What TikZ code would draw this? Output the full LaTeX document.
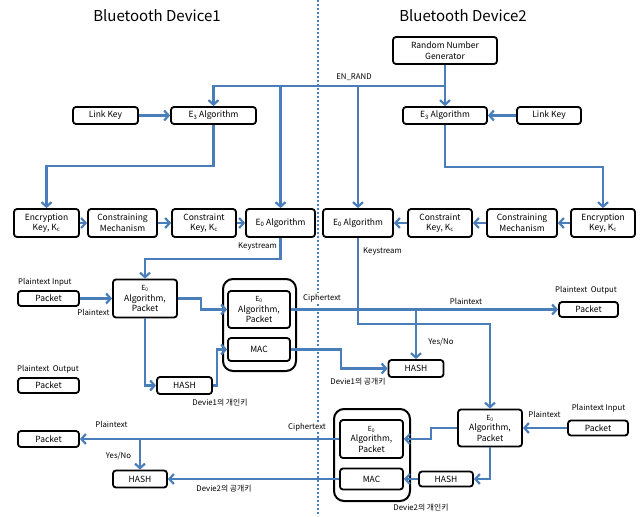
\documentclass[tikz,border=0pt]{standalone}
\usepackage{fontspec}
\setmainfont{Noto Sans CJK KR}
\usepackage{pgf, tikz}
\usetikzlibrary{arrows.meta}

\definecolor{linkblue}{HTML}{4A7EBB}

\begin{document}
\begin{tikzpicture}[x=1pt,y=-1pt,
  box/.style={draw, line width=1.8pt, rounded corners=3pt, fill=white, align=center, inner sep=1pt, font=\fontsize{8.5}{10.5}\selectfont},
  group/.style={draw, line width=2pt, rounded corners=10pt},
  flow/.style={draw=linkblue, line width=2.2pt, -{Straight Barb[length=4.5pt,width=10pt]}},
  lbl/.style={font=\fontsize{7.8}{9}\selectfont, inner sep=0pt},
  title/.style={font=\fontsize{15}{18}\selectfont}]
\useasboundingbox (0,0) rectangle (644,516);
\draw[linkblue, line width=2.2pt, dash pattern=on 2pt off 2pt] (318,0) -- (318,516);
\node[title] (titleA) at (157,16) {Bluetooth Device1};
\node[title] (titleB) at (463,16) {Bluetooth Device2};

\node[box, minimum width=104pt, minimum height=27pt] (rng) at (445,50.5) {Random Number\\Generator};
\node[box, minimum width=65pt, minimum height=17pt] (keyA) at (105.5,115.5) {Link Key};
\node[box, minimum width=85pt, minimum height=17pt] (ethreeA) at (213.5,115.5) {E\textsubscript{3} Algorithm};
\node[box, minimum width=84pt, minimum height=17pt] (ethreeB) at (445,115.5) {E\textsubscript{3} Algorithm};
\node[box, minimum width=64pt, minimum height=17pt] (keyB) at (549,115.5) {Link Key};

\node[box, minimum width=65pt, minimum height=28pt] (encA) at (46.5,223) {Encryption\\Key, K\textsubscript{c}};
\node[box, minimum width=69pt, minimum height=28pt] (mechA) at (122.5,223) {Constraining\\Mechanism};
\node[box, minimum width=64pt, minimum height=28pt] (conA) at (204,223) {Constraint\\Key, K\textsubscript{c}};
\node[box, minimum width=69pt, minimum height=28pt] (ezeroA) at (280.5,223) {E\textsubscript{0} Algorithm};
\node[box, minimum width=70pt, minimum height=28pt] (ezeroB) at (358,223) {E\textsubscript{0} Algorithm};
\node[box, minimum width=64pt, minimum height=28pt] (conB) at (440,223) {Constraint\\Key, K\textsubscript{c}};
\node[box, minimum width=70pt, minimum height=28pt] (mechB) at (522,223) {Constraining\\Mechanism};
\node[box, minimum width=64pt, minimum height=28pt] (encB) at (603,223) {Encryption\\Key, K\textsubscript{c}};

\coordinate (randbus) at (445,86);
\node[lbl] (enrand) at (354,77) {EN\_RAND};
\draw[flow] (rng.south) -- (ethreeB.north);
\draw[flow] (randbus) -| (ethreeA.north);
\draw[flow] (ezeroA.north |- randbus) -- (ezeroA.north);
\draw[flow] (ezeroB.north |- randbus) -- (ezeroB.north);
\draw[flow] (keyA) -- (ethreeA);
\draw[flow] (keyB) -- (ethreeB);
\draw[flow] (ethreeA.south) -- ++(0,41) -| (encA.north);
\draw[flow] (ethreeB.south) -- ++(0,42) -| (encB.north);
\draw[flow] (encA) -- (mechA);
\draw[flow] (mechA) -- (conA);
\draw[flow] (conA) -- (ezeroA);
\draw[flow] (encB) -- (mechB);
\draw[flow] (mechB) -- (conB);
\draw[flow] (conB) -- (ezeroB);

\node[box, minimum width=61pt, minimum height=15pt] (inA) at (48.5,298.5) {Packet};
\node[lbl, anchor=west] (inAtxt) at (18,282) {Plaintext Input};
\node[box, minimum width=64pt, minimum height=38pt] (epkA) at (145,298.5) {{\fontsize{7}{7}\selectfont E\textsubscript{0}}\\Algorithm,\\Packet};
\node[lbl] (ptA) at (93.5,312) {Plaintext};
\draw[flow] (inA) -- (epkA);
\node[lbl, anchor=east] (ksA) at (277,247) {Keystream};
\draw[flow] (ezeroA.south) -- ++(0,21) -| (epkA.north);
\node[group, minimum width=73pt, minimum height=92pt] (grpA) at (259.5,325) {};
\node[box, minimum width=62pt, minimum height=37pt] (cipherA) at (259,309.5) {{\fontsize{7}{7}\selectfont E\textsubscript{0}}\\Algorithm,\\Packet};
\node[box, minimum width=62pt, minimum height=23pt] (macA) at (259,349.5) {MAC};
\node[box, minimum width=55pt, minimum height=17pt] (hashA) at (184.5,385.5) {HASH};
\draw[flow] (epkA.east) -- ++(23,0) |- (cipherA.west);
\draw[flow] (epkA.south) |- (hashA.west);
\draw[flow] (hashA.east) -- ++(4,0) |- (macA.west);
\node[lbl] (privA) at (220,403) {Devie1의 개인키};
\node[box, minimum width=61pt, minimum height=15pt] (outA) at (48.5,385.5) {Packet};
\node[lbl, anchor=west] (outAtxt) at (17,369) {Plaintext~~Output};

\node[box, minimum width=59pt, minimum height=15pt] (outB) at (588.5,309.5) {Packet};
\node[lbl, anchor=west] (outBtxt) at (555,290) {Plaintext~~Output};
\node[lbl, fill=white, inner sep=1pt] (ctA) at (322,298) {Ciphertext};
\node[lbl] (ptB) at (466,301) {Plaintext};
\draw[flow] (cipherA.east) -- (outB.west);
\node[box, minimum width=55pt, minimum height=17pt] (hashB) at (416,368.5) {HASH};
\draw[flow] (hashB.north |- cipherA.east) -- (hashB.north);
\node[lbl] (ynB) at (441,342) {Yes/No};
\draw[flow] (macA.east) -- ++(50,0) |- (hashB.west);
\node[lbl] (pubA) at (358,382) {Devie1의 공개키};
\node[lbl, anchor=west] (ksB) at (363,252) {Keystream};

\node[box, minimum width=64pt, minimum height=37pt] (epkB) at (490,428) {{\fontsize{7}{7}\selectfont E\textsubscript{0}}\\Algorithm,\\Packet};
\node[box, minimum width=60pt, minimum height=15pt] (inB) at (598,428) {Packet};
\node[lbl] (inBtxt) at (598.5,408) {Plaintext Input};
\node[lbl] (ptC) at (544.5,414) {Plaintext};
\draw[flow] (ezeroB.south) -- ++(0,86) -| (epkB.north);
\draw[flow] (inB) -- (epkB);
\node[group, minimum width=76pt, minimum height=92pt] (grpB) at (372,455) {};
\node[box, minimum width=63pt, minimum height=38pt] (cipherB) at (371.5,439) {{\fontsize{7}{7}\selectfont E\textsubscript{0}}\\Algorithm,\\Packet};
\node[box, minimum width=63pt, minimum height=21pt] (macB) at (371.5,479) {MAC};
\node[box, minimum width=54pt, minimum height=15pt] (hashC) at (446,479) {HASH};
\draw[flow] (epkB.west) -- ++(-26,0) |- (cipherB.east);
\draw[flow] (epkB.south) |- (hashC.east);
\draw[flow] (hashC) -- (macB);
\node[lbl] (privB) at (421,508) {Devie2의 개인키};

\node[box, minimum width=61pt, minimum height=16pt] (outC) at (48.5,439) {Packet};
\node[lbl, fill=white, inner sep=1pt] (ctB) at (307,427) {Ciphertext};
\node[lbl] (ptD) at (111.5,424) {Plaintext};
\draw[flow] (cipherB.west) -- (outC.east);
\node[box, minimum width=54pt, minimum height=17pt] (hashD) at (140,479) {HASH};
\draw[flow] (hashD.north |- cipherB.west) -- (hashD.north);
\node[lbl] (ynD) at (118.5,456) {Yes/No};
\draw[flow] (macB.west) -- (hashD.east);
\node[lbl] (pubB) at (224,489) {Devie2의 공개키};
\end{tikzpicture}
\end{document}
